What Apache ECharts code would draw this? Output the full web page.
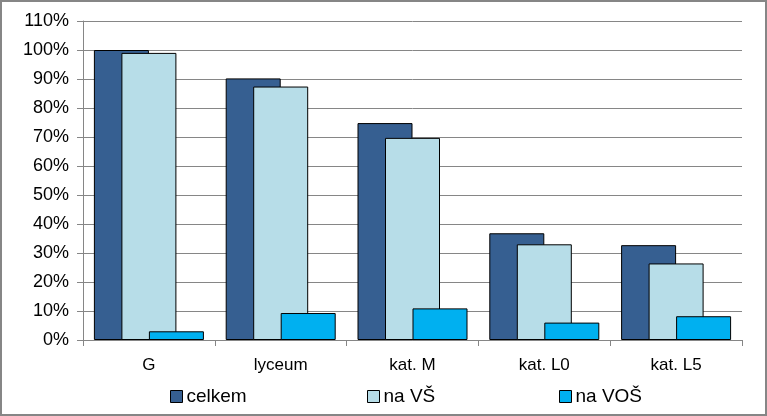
<!DOCTYPE html>
<html>
<head>
<meta charset="utf-8">
<script src="https://cdn.jsdelivr.net/npm/echarts@6/dist/echarts.min.js"></script>
<style>
html,body{margin:0;padding:0;background:#fff;}
#c{width:767px;height:416px;}
</style>
</head>
<body>
<div id="c"></div>
<script>
const categories = ['G', 'lyceum', 'kat. M', 'kat. L0', 'kat. L5'];
const celkem = [100, 90.2, 74.8, 36.8, 32.7];
const naVS = [99, 87.4, 69.7, 33, 26.4];
const naVOS = [3, 9.3, 10.9, 6, 8.2];
const seriesNames = ['celkem', 'na VŠ', 'na VOŠ'];
const colors = ['#365F91', '#B7DDE8', '#00B0F0'];

const chart = echarts.init(document.getElementById('c'), null, {renderer: 'canvas'});
const font = 'Liberation Sans, Arial, sans-serif';
const legendBase = {
  top: 382, itemWidth: 12, itemHeight: 12, icon: 'rect', itemGap: 0,
  textStyle: {fontFamily: font, fontSize: 19, color: '#000', padding: [0,0,0,-1]},
  itemStyle: {borderColor: '#000', borderWidth: 1}
};
const mk = (name, i, d) => ({
  name: name, type: 'bar', data: d, barWidth: 55, barGap: '-50%',
  itemStyle: {color: colors[i], borderColor: '#000', borderWidth: 1},
  emphasis: {disabled: true}, animation: false
});
chart.setOption({
  animation: false,
  graphic: [{type: 'rect', shape: {x: 1, y: 1, width: 765, height: 414}, style: {fill: 'none', stroke: '#868686', lineWidth: 2}, silent: true}],
  grid: {left: 83, right: 25, top: 21, bottom: 76},
  legend: [
    Object.assign({}, legendBase, {left: 165, data: [seriesNames[0]]}),
    Object.assign({}, legendBase, {left: 362, data: [seriesNames[1]]}),
    Object.assign({}, legendBase, {left: 554, data: [seriesNames[2]]})
  ],
  xAxis: {
    type: 'category', data: categories,
    axisLine: {lineStyle: {color: '#868686', width: 1}},
    axisTick: {show: true, length: 6, lineStyle: {color: '#868686'}},
    axisLabel: {fontFamily: font, fontSize: 17, color: '#000', margin: 17}
  },
  yAxis: {
    type: 'value', min: 0, max: 110, interval: 10,
    axisLine: {show: true, lineStyle: {color: '#868686'}},
    axisTick: {show: true, length: 6, lineStyle: {color: '#868686'}},
    splitLine: {lineStyle: {color: '#868686', width: 1}},
    axisLabel: {fontFamily: font, fontSize: 18, color: '#000', margin: 14, formatter: v => v + '%'}
  },
  series: [mk(seriesNames[0], 0, celkem), mk(seriesNames[1], 1, naVS), mk(seriesNames[2], 2, naVOS)]
});
</script>
</body>
</html>
